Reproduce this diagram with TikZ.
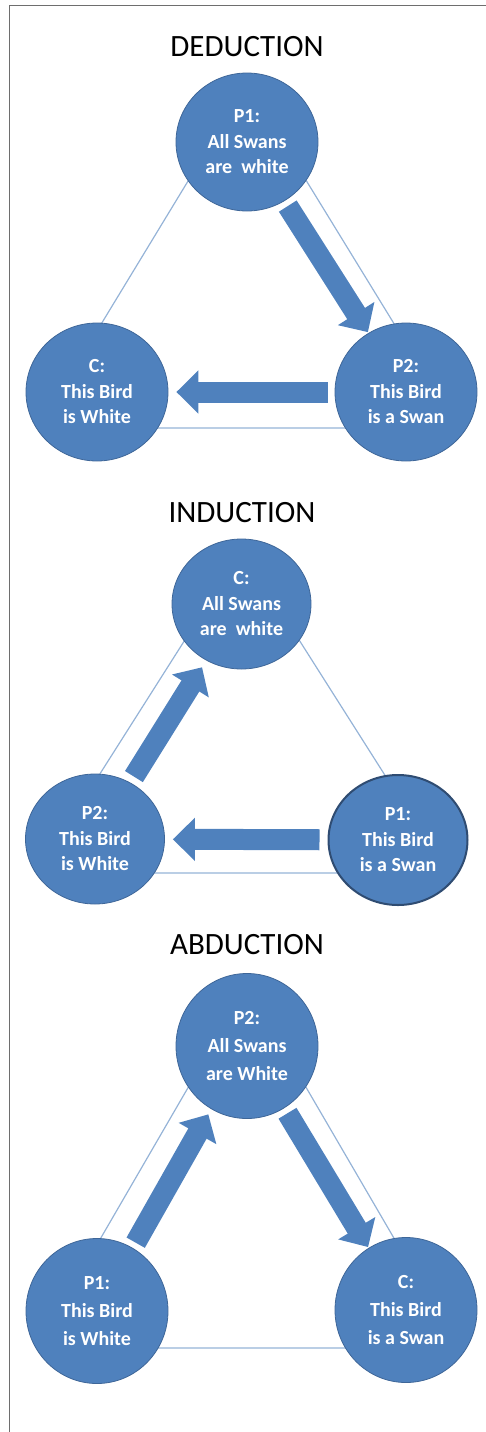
\documentclass[tikz,border=0pt]{standalone}
\usepackage{fontspec}
\setmainfont{Carlito}
\usetikzlibrary{arrows.meta,shapes.geometric}
\definecolor{swanblue}{RGB}{79,129,189}
\definecolor{swanedge}{RGB}{62,102,152}
\definecolor{swanline}{RGB}{149,179,215}
\definecolor{framegray}{RGB}{110,110,110}
\tikzset{
  bubble/.style={ellipse,fill=swanblue,draw=swanedge,line width=0.8pt,text=white,
    font=\fontsize{20}{25.5}\selectfont\bfseries,align=center,inner sep=0pt},
  fat/.style={swanblue,line width=21pt,-{Triangle[width=42pt,length=22pt]}},
  side/.style={swanline,line width=1.2pt},
  heading/.style={font=\fontsize{31}{36}\selectfont}
}

\begin{document}
\begin{tikzpicture}[x=1pt,y=-1pt]
    \useasboundingbox (0,0) rectangle (486,1432);
    \draw[framegray,line width=1.5pt] (9.5,1432)--(9.5,5.7)--(486,5.7);

    % deduction
    \node[heading] (dedtitle) at (247,47) {DEDUCTION};
    \coordinate (dedA) at (247,84);
    \coordinate (dedL) at (38,428);
    \coordinate (dedR) at (458,428);
    \draw[side] (dedA)--(dedL)--(dedR)--cycle;
    \begin{scope}[bubble/.append style={minimum width=142pt,minimum height=138pt}]
        \node[bubble] (dedP1) at (247,142) {P1:\\All Swans\\are~~white};
        \node[bubble] (dedC) at (97,392) {C:\\This Bird\\is White};
        \node[bubble] (dedP2) at (406,392) {P2:\\This Bird\\is a Swan};
    \end{scope}
    \draw[fat,shorten <=6pt,shorten >=1pt] (dedP1)--(dedP2);
    \draw[fat,shorten <=7pt,shorten >=8pt] (dedP2)--(dedC);

    % induction
    \node[heading] (indtitle) at (242,513) {INDUCTION};
    \coordinate (indA) at (242,550);
    \coordinate (indL) at (37,873);
    \coordinate (indR) at (447,873);
    \draw[side] (indA)--(indL)--(indR)--cycle;
    \begin{scope}[bubble/.append style={minimum width=139pt,minimum height=130pt}]
        \node[bubble] (indC) at (241.5,604) {C:\\All Swans\\are~~white};
        \node[bubble] (indP2) at (95,839) {P2:\\This Bird\\is White};
        \node[bubble,draw=swanedge!75!black,line width=2pt] (indP1) at (398,840) {P1:\\This Bird\\is a Swan};
    \end{scope}
    \draw[fat,shorten <=7pt,shorten >=8pt] (indP2)--(indC);
    \draw[fat,shorten <=8pt,shorten >=8pt] (indP1)--(indP2);

    % abduction
    \node[heading] (abdtitle) at (247,945) {ABDUCTION};
    \coordinate (abdA) at (247,986);
    \coordinate (abdL) at (37,1348);
    \coordinate (abdR) at (458,1348);
    \draw[side] (abdA)--(abdL)--(abdR)--cycle;
    \begin{scope}[bubble/.append style={minimum width=142pt,minimum height=145pt,
        font=\fontsize{20}{28}\selectfont\bfseries}]
        \node[bubble] (abdP2) at (247,1046) {P2:\\All Swans\\are White};
        \node[bubble] (abdP1) at (97,1311) {P1:\\This Bird\\is White};
        \node[bubble] (abdC) at (406,1310) {C:\\This Bird\\is a Swan};
    \end{scope}
    \draw[fat,shorten <=6pt,shorten >=6pt] (abdP1)--(abdP2);
    \draw[fat,shorten <=6pt,shorten >=1pt] (abdP2)--(abdC);
\end{tikzpicture}
\end{document}
